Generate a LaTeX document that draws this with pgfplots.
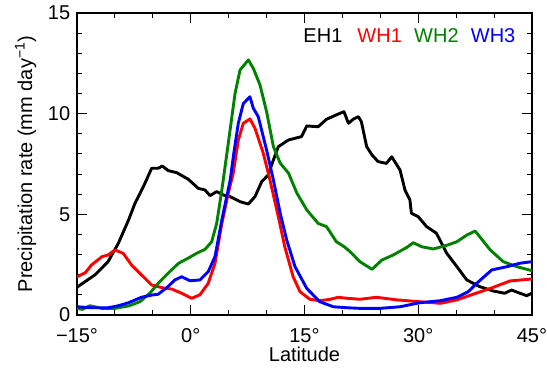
\documentclass[border=0pt]{standalone}
\usepackage{fontspec}
\setmainfont{Liberation Sans}
\usepackage{pgfplots}
\pgfplotsset{compat=1.18}
\definecolor{igreen}{RGB}{0,130,0}
\begin{document}
\fontsize{20}{24}\selectfont
\begin{tikzpicture}
\path[use as bounding box] (0,0) rectangle (547pt,369pt);
\begin{axis}[
  at={(77pt,54pt)}, anchor=south west,
  scale only axis, width=455pt, height=302pt,
  xmin=-15, xmax=45, ymin=0, ymax=15,
  xtick={-15,0,15,30,45},
  xticklabels={−15°,0°,15°,30°,45°},
  ytick={0,5,10,15},
  minor x tick num=2, minor y tick num=4,
  tick align=inside,
  major tick length=10pt, minor tick length=5pt,
  every tick/.style={black, line width=1pt},
  axis line style={line width=1.2pt},
  /pgf/number format/assume math mode=true,
  xticklabel style={anchor=base, yshift=-28pt},
  xlabel={Latitude},
  ylabel={Precipitation rate (mm day\textsuperscript{−1})},
  xlabel style={at={(rel axis cs:0.5,0)}, anchor=base, yshift=-47pt, inner sep=0pt},
  ylabel style={yshift=-2pt},
  every axis plot/.append style={line width=2.9pt, line join=round},
  clip=true,
]
\addplot[black] coordinates {
(-15,1.38) (-12.6,2.0) (-10.9,2.65) (-9.55,3.56) (-8.2,4.72) (-7.35,5.55) (-6.25,6.37) (-5.15,7.29) (-4.28,7.29) (-3.75,7.4) (-2.96,7.17) (-1.85,7.07) (-0.32,6.74) (1.0,6.29) (1.88,6.21) (2.54,5.93) (3.42,6.13) (4.3,5.96) (5.18,5.88) (6.5,5.63) (7.6,5.51) (8.47,5.88) (9.36,6.62) (10.2,6.95) (10.9,7.7) (11.55,8.36) (12.87,8.69) (14.6,8.86) (15.3,9.39) (16.8,9.35) (17.9,9.72) (19.2,9.94) (20.2,10.1) (20.8,9.52) (21.4,9.72) (22.1,9.85) (22.5,9.6) (23.2,8.36) (23.9,7.95) (24.7,7.62) (25.8,7.53) (26.5,7.86) (27.6,7.2) (28.25,6.21) (28.9,5.71) (29.1,5.05) (30.0,4.88) (31.1,4.39) (32.4,4.06) (33.75,3.07) (35.1,2.4) (36.4,1.74) (38.1,1.41) (39.9,1.19) (41.4,1.08) (42.3,1.24) (43.2,1.11) (44.3,0.96) (45,1.08)
};
\addplot[red] coordinates {
(-15,1.9) (-13.9,2.1) (-13.1,2.48) (-11.7,2.9) (-10.9,2.98) (-10.0,3.23) (-8.9,3.06) (-7.8,2.48) (-6.5,1.99) (-5.15,1.49) (-3.4,1.32) (-2.5,1.29) (-1.2,1.08) (0.13,0.83) (1.2,1.0) (2.3,1.57) (3.2,2.57) (4.1,4.55) (4.95,6.05) (5.6,7.04) (6.27,8.69) (6.93,9.52) (7.8,9.74) (8.47,9.27) (9.57,8.03) (10.45,6.7) (11.55,4.88) (12.4,3.39) (13.5,1.9) (14.4,1.16) (15.7,0.78) (17.0,0.71) (18.4,0.78) (19.45,0.88) (20.6,0.83) (22.3,0.78) (24.5,0.88) (27.2,0.75) (30.2,0.66) (32.9,0.58) (35.1,0.75) (37.3,1.04) (39.5,1.32) (42.1,1.69) (45,1.79)
};
\addplot[igreen] coordinates {
(-15,0.33) (-14.3,0.28) (-13.3,0.46) (-11.75,0.33) (-10,0.33) (-8.2,0.45) (-6.7,0.66) (-5.4,1.08) (-4.3,1.57) (-3.0,2.07) (-1.6,2.57) (-0.35,2.82) (0.75,3.06) (1.88,3.26) (2.76,3.64) (3.42,4.55) (4.1,6.21) (4.95,8.53) (5.84,11.0) (6.5,12.17) (7.6,12.67) (8.25,12.25) (9.13,11.43) (10.0,10.1) (10.9,8.36) (11.8,7.54) (12.9,7.04) (14.0,6.05) (15.3,5.22) (16.8,4.55) (17.9,4.39) (19.2,3.64) (20.2,3.4) (21.0,3.15) (22.3,2.65) (23.9,2.27) (25.2,2.73) (26.7,2.98) (28.5,3.36) (29.35,3.59) (30.45,3.39) (32.0,3.28) (33.75,3.46) (35.1,3.64) (36.4,3.97) (37.5,4.17) (38.1,3.89) (39.5,3.23) (41.2,2.65) (43.0,2.4) (45,2.2)
};
\addplot[blue] coordinates {
(-15,0.41) (-13.1,0.36) (-10.9,0.36) (-9.55,0.46) (-8.2,0.61) (-6.5,0.88) (-5.15,0.99) (-4.3,1.03) (-3.0,1.41) (-2.1,1.74) (-1.2,1.9) (-0.1,1.7) (1.2,1.74) (2.3,2.15) (3.2,2.9) (4.1,4.72) (5.2,6.7) (5.7,8.1) (6.27,9.52) (6.93,10.5) (7.8,10.84) (8.25,10.27) (8.9,9.85) (10.0,8.2) (10.9,6.7) (11.8,5.05) (12.65,3.73) (13.75,2.4) (15.3,1.32) (17.0,0.66) (18.8,0.41) (20.6,0.36) (22.3,0.33) (25.0,0.33) (27.6,0.41) (30.2,0.61) (32.9,0.71) (35.1,0.88) (36.6,1.16) (37.7,1.57) (39.7,2.24) (41.7,2.4) (43.4,2.57) (45,2.65)
};
\node[anchor=base west, inner sep=0, text=black] at (axis cs:14.84,13.51) {EH1};
\node[anchor=base west, inner sep=0, text=red] at (axis cs:21.96,13.51) {WH1};
\node[anchor=base west, inner sep=0, text=igreen] at (axis cs:29.44,13.51) {WH2};
\node[anchor=base west, inner sep=0, text=blue] at (axis cs:36.92,13.51) {WH3};
\end{axis}
\end{tikzpicture}
\end{document}
